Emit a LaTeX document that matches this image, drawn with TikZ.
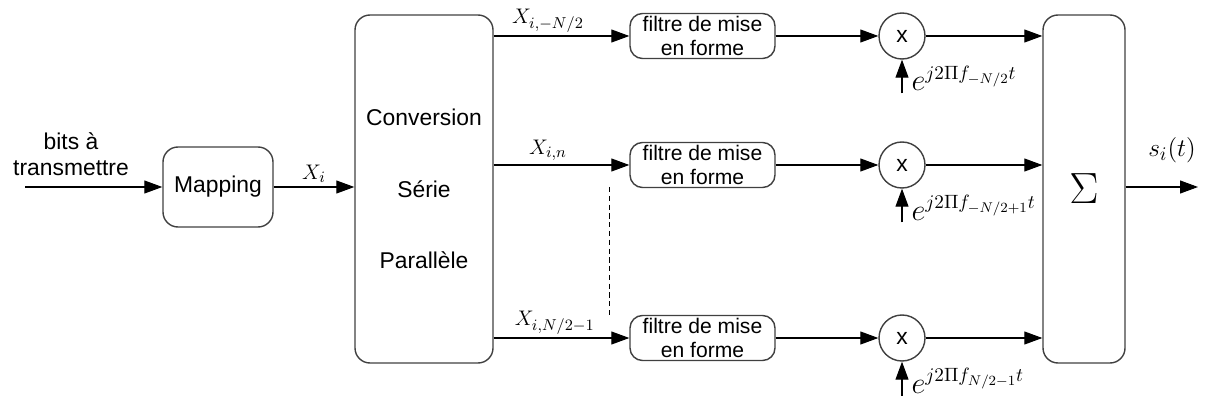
\documentclass[tikz,border=0pt]{standalone}
\usepackage{fontspec}
\setmainfont{Liberation Sans}
\usetikzlibrary{arrows.meta, positioning, calc}

\tikzset{
  blockbox/.style={rectangle, rounded corners=0.3cm, draw=black!75, thick, align=center, font=\fontsize{13}{15}\selectfont},
  filtbox/.style={blockbox, rounded corners=0.25cm, minimum width=2.9cm, minimum height=0.9cm, inner sep=1pt, font=\fontsize{12}{13.5}\selectfont},
  multnode/.style={circle, draw=black!75, thick, minimum size=0.92cm, inner sep=0pt, font=\fontsize{13}{15}\selectfont},
  flow/.style={-{Triangle[length=3.6mm, width=2.6mm]}, semithick},
  lbl/.style={font=\fontsize{13}{15}\selectfont, inner sep=1pt},
  carrier/.style={lbl, anchor=base west, font=\fontsize{16}{18}\selectfont}
}

\begin{document}
\begin{tikzpicture}
\useasboundingbox (0,0) rectangle (24.2,8.34);

% input and mapping
\coordinate (in) at (0.5,4.6);
\node[blockbox, minimum width=2.2cm, minimum height=1.6cm] (mapping) at (4.36,4.6) {Mapping};
\node[lbl, align=center, anchor=south] (bits) at (1.42,4.78) {bits à\\transmettre};
\draw[flow] (in) -- (mapping);

% serie / parallele
\node[blockbox, minimum width=2.76cm, minimum height=6.96cm] (conv) at (8.48,4.56) {Conversion\\[0.9cm]Série\\[0.9cm]Parallèle};
\draw[flow] (mapping) -- (mapping -| conv.west) node[lbl, midway, above=1pt] (xl) {$X_i$};

% three branches
\node[filtbox] (f1) at (14.05,7.62) {filtre de mise\\en forme};
\node[filtbox] (f2) at (14.05,5.04) {filtre de mise\\en forme};
\node[filtbox] (f3) at (14.05,1.58) {filtre de mise\\en forme};

\node[multnode] (m1) at (18.04,7.62) {x};
\node[multnode] (m2) at (18.04,5.04) {x};
\node[multnode] (m3) at (18.04,1.58) {x};

\draw[flow] (f1 -| conv.east) -- (f1) node[lbl, pos=0.4, above=1pt] (x1) {$X_{i,-N/2}$};
\draw[flow] (f2 -| conv.east) -- (f2) node[lbl, pos=0.4, above=1pt] (x2) {$X_{i,n}$};
\draw[flow] (f3 -| conv.east) -- (f3) node[lbl, pos=0.45, above=1pt] (x3) {$X_{i,N/2-1}$};

\draw[densely dashed] (12.18,4.6) -- (12.18,2.04);

\draw[flow] (f1) -- (m1);
\draw[flow] (f2) -- (m2);
\draw[flow] (f3) -- (m3);

% carriers
\coordinate (c1) at ($(m1)+(0,-1.15)$);
\coordinate (c2) at ($(m2)+(0,-1.15)$);
\coordinate (c3) at ($(m3)+(0,-1.15)$);
\draw[flow] (c1) -- (m1);
\draw[flow] (c2) -- (m2);
\draw[flow] (c3) -- (m3);
\node[carrier] (e1) at ($(c1)+(0.15,0.05)$) {$e^{j2\Pi f_{-N/2}t}$};
\node[carrier] (e2) at ($(c2)+(0.15,0.05)$) {$e^{j2\Pi f_{-N/2+1}t}$};
\node[carrier] (e3) at ($(c3)+(0.15,0.05)$) {$e^{j2\Pi f_{N/2-1}t}$};

% sum and output
\node[blockbox, minimum width=1.64cm, minimum height=6.96cm] (sum) at (21.68,4.56) {\fontsize{30}{32}\selectfont$\Sigma$};
\draw[flow] (m1) -- (m1 -| sum.west);
\draw[flow] (m2) -- (m2 -| sum.west);
\draw[flow] (m3) -- (m3 -| sum.west);

\coordinate (out) at (23.96,4.6);
\draw[flow] (out -| sum.east) -- (out);
\node[lbl, font=\fontsize{15}{17}\selectfont] (s) at (23.44,5.34) {$s_i(t)$};
\end{tikzpicture}
\end{document}
